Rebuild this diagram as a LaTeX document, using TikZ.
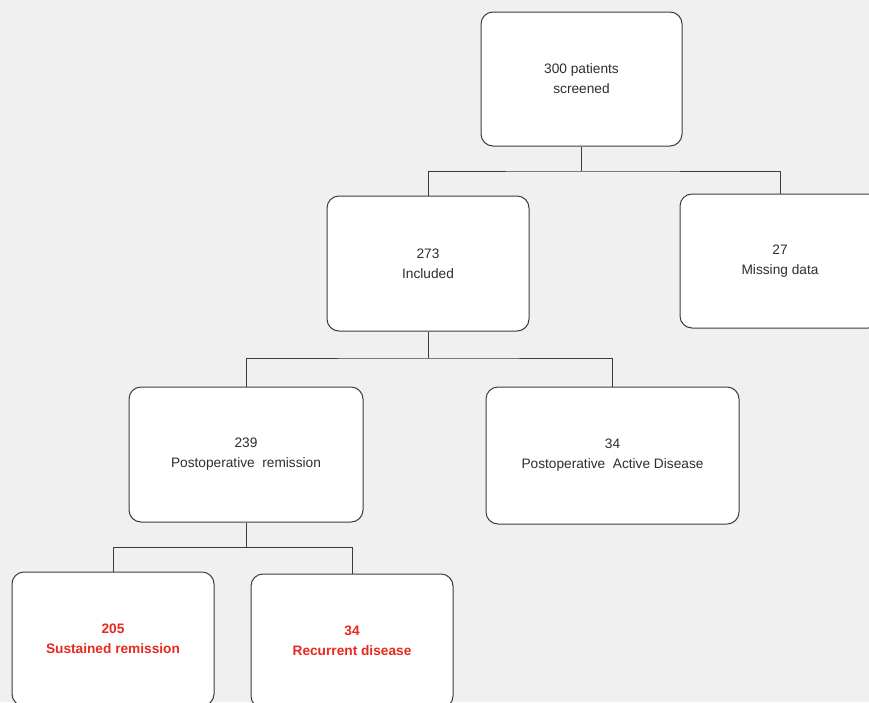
\documentclass[tikz,border=0pt]{standalone}
\usepackage{fontspec}
\setmainfont{Liberation Sans}
\definecolor{bg}{HTML}{F0F0F0}
\definecolor{boxline}{HTML}{3C3C3C}
\definecolor{txt}{HTML}{2E2E2E}
\definecolor{redtxt}{HTML}{E8291F}
\tikzset{
  box/.style={draw=boxline, fill=white, rounded corners=12pt, line width=1pt,
    align=center, font=\fontsize{13.7}{20}\selectfont, text=txt, inner sep=0pt},
  redbox/.style={box, text=redtxt, font=\fontsize{13.7}{20}\selectfont\bfseries},
  link/.style={draw=boxline, line width=1pt}
}
\begin{document}
\begin{tikzpicture}[x=1pt,y=-1pt]
\fill[bg] (0,0) rectangle (869,702);
\useasboundingbox (0,0) rectangle (869,702);
\clip (0,0) rectangle (869,702);
\node[box, minimum width=201pt, minimum height=134pt] (top) at (581.5,79) {300 patients\\screened};
\node[box, minimum width=202pt, minimum height=135pt] (inc) at (428,263.5) {273\\Included};
\node[box, minimum width=200pt, minimum height=134pt] (miss) at (780,261) {27\\Missing data};
\node[box, minimum width=234pt, minimum height=135pt] (rem) at (246,454.5) {239\\Postoperative\ \ remission};
\node[box, minimum width=253pt, minimum height=137pt] (act) at (612.5,455.5) {34\\Postoperative\ \ Active Disease};
\node[redbox, minimum width=202pt, minimum height=134pt] (sus) at (113,639) {205\\Sustained remission};
\node[redbox, minimum width=202pt, minimum height=134pt] (rec) at (352,641) {34\\Recurrent disease};
\coordinate (j1) at (581.5,171);
\coordinate (j2) at (428,358);
\coordinate (j3) at (246,547);
\draw[link] (top.south) -- (j1);
\draw[link] (inc.north) |- (j1) -| (miss.north);
\draw[link] (inc.south) -- (j2);
\draw[link] (rem.north) |- (j2) -| (act.north);
\draw[link] (rem.south) -- (j3);
\draw[link] (sus.north) |- (j3) -| (rec.north);
\end{tikzpicture}
\end{document}
